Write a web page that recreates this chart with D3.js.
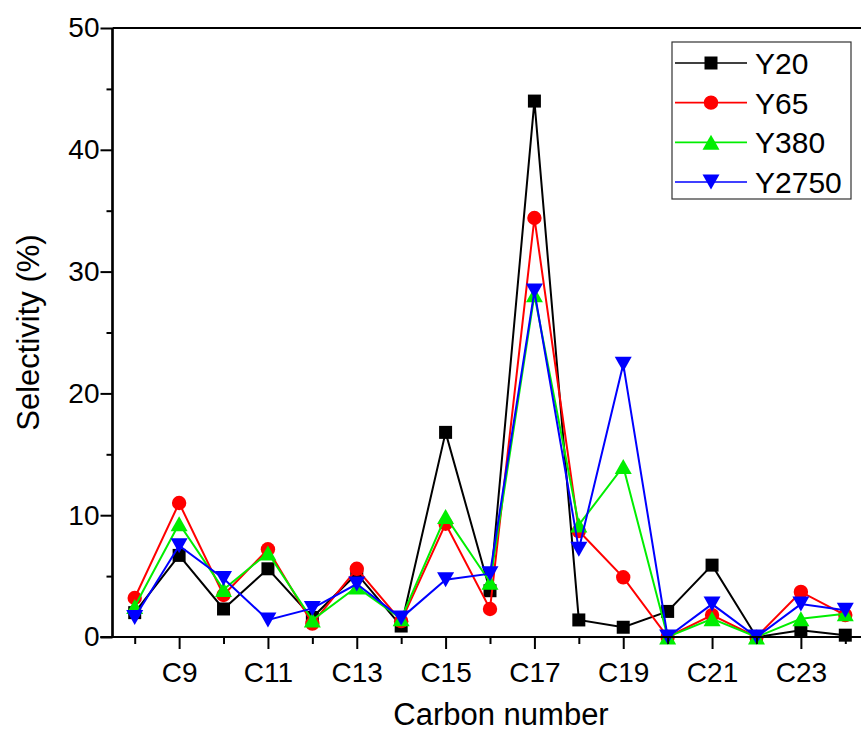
<!DOCTYPE html>
<html>
<head>
<meta charset="utf-8">
<script src="https://cdn.jsdelivr.net/npm/d3@7"></script>
<style>
  html, body { margin: 0; padding: 0; background: #fff; }
  svg { display: block; font-family: "Liberation Sans", Arial, sans-serif; }
</style>
</head>
<body>
<svg id="chart" width="861" height="733"></svg>
<script>
// ---- data ----
const carbonNumbers = [8, 9, 10, 11, 12, 13, 14, 15, 16, 17, 18, 19, 20, 21, 22, 23, 24];
const y20   = [2.0, 6.7, 2.3, 5.6, 1.6, 5.2, 0.9, 16.8, 3.8, 44.0, 1.4, 0.8, 2.1, 5.9, 0, 0.55, 0.15];
const y65   = [3.2, 11.0, 3.45, 7.2, 1.1, 5.6, 1.3, 9.3, 2.3, 34.4, 8.7, 4.9, 0, 1.8, 0, 3.7, 1.8];
const y380  = [2.5, 9.3, 3.9, 6.9, 1.4, 4.1, 1.5, 9.9, 4.5, 28.1, 9.2, 14.0, 0, 1.5, 0, 1.5, 1.9];
const y2750 = [1.6, 7.5, 4.8, 1.4, 2.35, 4.35, 1.55, 4.7, 5.2, 28.4, 7.2, 22.4, 0, 2.7, 0, 2.7, 2.2];
const seriesNames = ["Y20", "Y65", "Y380", "Y2750"];
const yTickValues = [0, 10, 20, 30, 40, 50];
const yMinorTicks = [5, 15, 25, 35, 45];
const xLabelTicks = [9, 11, 13, 15, 17, 19, 21, 23];
const xMinorTicks = [8, 10, 12, 14, 16, 18, 20, 22, 24];
const xTitle = "Carbon number";
const yTitle = "Selectivity (%)";

const seriesValues = [y20, y65, y380, y2750];
const colors = ["#000000", "#ff0000", "#00ee00", "#0000ff"];
const symbols = ["square", "circle", "up", "down"];

const svg = d3.select("#chart");
const pLeft = 112.5, pRight = 867.5, pTop = 28, pBottom = 637;

const x = d3.scaleLinear().domain([7.5, 24.5]).range([pLeft, pRight]);
const y = d3.scaleLinear().domain([0, 50]).range([pBottom, pTop]);

function markerPath(sym, cx, cy) {
  if (sym === "square") {
    const s = 6.5;
    return `M${cx - s},${cy - s}H${cx + s}V${cy + s}H${cx - s}Z`;
  }
  if (sym === "circle") {
    const r = 7.2;
    return `M${cx - r},${cy}A${r},${r} 0 1,0 ${cx + r},${cy}A${r},${r} 0 1,0 ${cx - r},${cy}Z`;
  }
  const w = 8.5, h = 7.5;
  if (sym === "up") {
    return `M${cx},${cy - h}L${cx + w},${cy + h}L${cx - w},${cy + h}Z`;
  }
  return `M${cx},${cy + h}L${cx + w},${cy - h}L${cx - w},${cy - h}Z`;
}

// series
const line = d3.line().x(d => x(d[0])).y(d => y(d[1]));
const plot = svg.append("g");
seriesValues.forEach((vals, i) => {
  const pts = carbonNumbers.map((c, j) => [c, vals[j]]);
  plot.append("path")
    .attr("d", line(pts))
    .attr("fill", "none")
    .attr("stroke", colors[i])
    .attr("stroke-width", 2);
  plot.selectAll(null).data(pts).enter().append("path")
    .attr("d", d => markerPath(symbols[i], x(d[0]), y(d[1])))
    .attr("fill", colors[i]);
});

// frame
svg.append("line").attr("x1", pLeft).attr("x2", 861).attr("y1", pTop).attr("y2", pTop)
  .attr("stroke", "#000").attr("stroke-width", 2.2);

// y axis
const yAxis = svg.append("g").attr("transform", `translate(${pLeft},0)`)
  .call(d3.axisLeft(y).tickValues(yTickValues).tickSize(12).tickPadding(1).tickFormat(d3.format("d")));
const yMinor = svg.append("g").attr("transform", `translate(${pLeft},0)`)
  .call(d3.axisLeft(y).tickValues(yMinorTicks).tickSize(6).tickFormat(""));
[yAxis, yMinor].forEach(g => {
  g.select(".domain").attr("stroke", "#000").attr("stroke-width", 2.2).attr("d", `M0,${pTop}V${pBottom}`);
  g.selectAll(".tick line").attr("stroke", "#000").attr("stroke-width", 2);
});
yAxis.selectAll(".tick text").attr("font-size", 28).attr("fill", "#000")
  .attr("font-family", "Liberation Sans, Arial, sans-serif");

// x axis
const xAxis = svg.append("g").attr("transform", `translate(0,${pBottom})`)
  .call(d3.axisBottom(x).tickValues(xLabelTicks).tickSize(12).tickFormat(d => "C" + d));
const xMinor = svg.append("g").attr("transform", `translate(0,${pBottom})`)
  .call(d3.axisBottom(x).tickValues(xMinorTicks).tickSize(7).tickFormat(""));
[xAxis, xMinor].forEach(g => {
  g.select(".domain").attr("stroke", "#000").attr("stroke-width", 2.2).attr("d", `M${pLeft - 12},0H861`);
  g.selectAll(".tick line").attr("stroke", "#000").attr("stroke-width", 2);
});
xAxis.selectAll(".tick text").attr("font-size", 28).attr("fill", "#000")
  .attr("y", 45).attr("dy", null)
  .attr("font-family", "Liberation Sans, Arial, sans-serif");

// titles
svg.append("text").attr("x", 501).attr("y", 725)
  .attr("text-anchor", "middle").attr("font-size", 31).text(xTitle);
svg.append("text")
  .attr("transform", `translate(39,${(pTop + pBottom) / 2}) rotate(-90)`)
  .attr("text-anchor", "middle").attr("font-size", 31).text(yTitle);

// legend
const lg = svg.append("g");
lg.append("rect").attr("x", 672).attr("y", 42).attr("width", 179).attr("height", 157)
  .attr("fill", "#fff").attr("stroke", "#333").attr("stroke-width", 1.2);
const rowY = d3.scalePoint().domain(seriesNames).range([63, 182]);
seriesNames.forEach((name, i) => {
  const ry = rowY(name);
  lg.append("line").attr("x1", 675).attr("x2", 747).attr("y1", ry).attr("y2", ry)
    .attr("stroke", colors[i]).attr("stroke-width", 1.6);
  lg.append("path").attr("d", markerPath(symbols[i], 711, ry)).attr("fill", colors[i]);
  lg.append("text").attr("x", 755).attr("y", ry + 11).attr("font-size", 30).text(name);
});
</script>
</body>
</html>
